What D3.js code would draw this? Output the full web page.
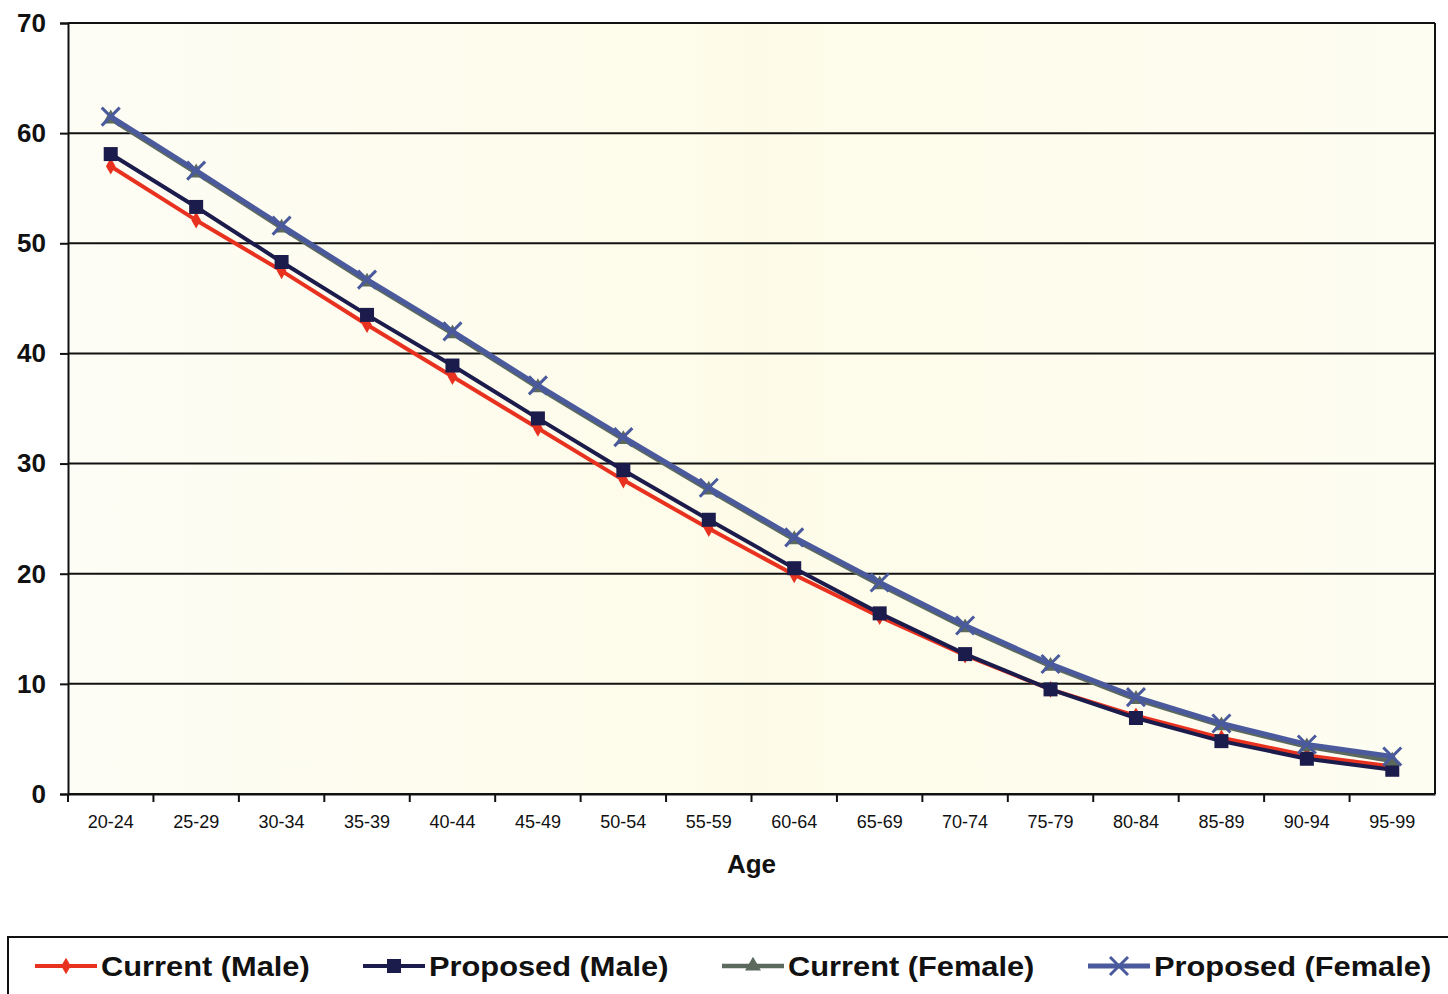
<!DOCTYPE html>
<html>
<head>
<meta charset="utf-8">
<script src="https://cdn.jsdelivr.net/npm/d3@7"></script>
<style>
  body { margin: 0; background: #fff; }
  svg text { font-family: "Liberation Sans", Arial, sans-serif; }
</style>
</head>
<body>
<div id="chart"></div>
<script>
// age groups on the x axis
const ages = ["20-24","25-29","30-34","35-39","40-44","45-49","50-54","55-59",
              "60-64","65-69","70-74","75-79","80-84","85-89","90-94","95-99"];
const yTicks = [0, 10, 20, 30, 40, 50, 60, 70];

// series values
const currentMale    = [57.0, 52.1, 47.5, 42.6, 37.9, 33.2, 28.5, 24.1, 19.9, 16.1, 12.6, 9.5, 7.1, 5.1, 3.5, 2.5];
const proposedMale   = [58.1, 53.3, 48.3, 43.5, 38.9, 34.1, 29.4, 24.9, 20.5, 16.4, 12.7, 9.5, 6.9, 4.8, 3.2, 2.2];
const currentFemale  = [61.3, 56.4, 51.4, 46.5, 41.8, 36.9, 32.2, 27.6, 23.1, 19.0, 15.1, 11.6, 8.6, 6.2, 4.3, 3.0];
const proposedFemale = [61.5, 56.6, 51.6, 46.7, 42.0, 37.1, 32.4, 27.8, 23.3, 19.2, 15.3, 11.8, 8.8, 6.4, 4.5, 3.4];

const seriesNames = ["Current (Male)", "Proposed (Male)", "Current (Female)", "Proposed (Female)"];

const series = [
  { name: seriesNames[0], values: currentMale,    color: "#e8321f", width: 4,   marker: "diamond" },
  { name: seriesNames[1], values: proposedMale,   color: "#1c1c4c", width: 4,   marker: "square" },
  { name: seriesNames[2], values: currentFemale,  color: "#5b6a5c", width: 4.5, marker: "triangle" },
  { name: seriesNames[3], values: proposedFemale, color: "#4a5a9c", width: 5,   marker: "x" }
];

const W = 1448, H = 994;
const margin = { top: 23, right: 13, bottom: 200, left: 68 },
    width = W - margin.left - margin.right,
    height = H - margin.top - margin.bottom;

const svg = d3.select("#chart")
  .append("svg")
  .attr("width", W)
  .attr("height", H);

const defs = svg.append("defs");
const grad = defs.append("linearGradient")
  .attr("id", "bg")
  .attr("x1", 0).attr("x2", 1).attr("y1", 0).attr("y2", 0);
grad.append("stop").attr("offset", "0%").attr("stop-color", "#fefdf5");
grad.append("stop").attr("offset", "50%").attr("stop-color", "#fdfbe8");
grad.append("stop").attr("offset", "100%").attr("stop-color", "#fefdf2");

const g = svg.append("g")
  .attr("transform", `translate(${margin.left}, ${margin.top})`);

const x = d3.scaleBand()
  .domain(ages)
  .range([0, width]);

const y = d3.scaleLinear()
  .domain([0, 70])
  .range([height, 0]);

// plot area background
g.append("rect")
  .attr("width", width)
  .attr("height", height)
  .attr("fill", "url(#bg)");

// gridlines
g.selectAll(".grid")
  .data(yTicks)
  .enter()
  .append("line")
    .attr("x1", 0)
    .attr("x2", width)
    .attr("y1", d => y(d))
    .attr("y2", d => y(d))
    .attr("stroke", "#111")
    .attr("stroke-width", 2);

// right border
g.append("line")
  .attr("x1", width).attr("x2", width)
  .attr("y1", 0).attr("y2", height)
  .attr("stroke", "#111").attr("stroke-width", 2);

// y axis
const yAxis = g.append("g")
  .call(d3.axisLeft(y).tickValues(yTicks).tickSize(8).tickPadding(14));
yAxis.select(".domain").attr("stroke", "#111").attr("stroke-width", 2);
yAxis.selectAll(".tick line").attr("stroke", "#111").attr("stroke-width", 2);
yAxis.selectAll("text")
  .attr("font-size", 26)
  .attr("font-weight", "bold")
  .attr("fill", "#111");

// x axis, ticks between categories
const xAxis = g.append("g")
  .attr("transform", `translate(0, ${height})`)
  .call(d3.axisBottom(x).tickSize(0).tickPadding(21));
xAxis.select(".domain").attr("stroke", "#111").attr("stroke-width", 2);
xAxis.selectAll("text")
  .attr("font-size", 18)
  .attr("fill", "#111");
g.append("g")
  .selectAll("line")
  .data(ages)
  .enter()
  .append("line")
    .attr("x1", d => x(d))
    .attr("x2", d => x(d))
    .attr("y1", height)
    .attr("y2", height + 8)
    .attr("stroke", "#111")
    .attr("stroke-width", 2);

// axis title
svg.append("text")
  .attr("x", margin.left + width / 2)
  .attr("y", 873)
  .attr("text-anchor", "middle")
  .attr("font-size", 26)
  .attr("font-weight", "bold")
  .attr("fill", "#111")
  .text("Age");

function drawMarker(sel, type, color) {
  if (type === "diamond") {
    sel.append("path").attr("d", d3.symbol(d3.symbolDiamond, 80)).attr("fill", color);
  } else if (type === "square") {
    sel.append("rect").attr("x", -7).attr("y", -7).attr("width", 14).attr("height", 14).attr("fill", color);
  } else if (type === "triangle") {
    sel.append("path").attr("d", d3.symbol(d3.symbolTriangle, 110)).attr("fill", color);
  } else {
    sel.append("path").attr("d", "M-9,-9L9,9M-9,9L9,-9").attr("stroke", color).attr("stroke-width", 3);
  }
}

const line = d3.line()
  .x((d, i) => x(ages[i]) + x.bandwidth() / 2)
  .y(d => y(d));

series.forEach(s => {
  g.append("path")
    .datum(s.values)
    .attr("fill", "none")
    .attr("stroke", s.color)
    .attr("stroke-width", s.width)
    .attr("stroke-linejoin", "round")
    .attr("d", line);

  g.selectAll(null)
    .data(s.values)
    .enter()
    .append("g")
      .attr("transform", (d, i) => `translate(${x(ages[i]) + x.bandwidth() / 2}, ${y(d)})`)
      .each(function() { drawMarker(d3.select(this), s.marker, s.color); });
});

// legend
const legend = svg.append("g");
legend.append("rect")
  .attr("x", 8).attr("y", 937)
  .attr("width", 1450).attr("height", 70)
  .attr("fill", "#fff")
  .attr("stroke", "#111")
  .attr("stroke-width", 2);

const legendX = [35, 363, 722, 1088];
series.forEach((s, i) => {
  const lg = legend.append("g").attr("transform", `translate(${legendX[i]}, 966)`);
  lg.append("line")
    .attr("x1", 0).attr("x2", 62)
    .attr("stroke", s.color)
    .attr("stroke-width", s.width);
  drawMarker(lg.append("g").attr("transform", "translate(31, 0)"), s.marker, s.color);
  lg.append("text")
    .attr("transform", "translate(66, 10) scale(1.1, 1)")
    .attr("font-size", 28)
    .attr("font-weight", "bold")
    .attr("fill", "#111")
    .text(s.name);
});
</script>
</body>
</html>
